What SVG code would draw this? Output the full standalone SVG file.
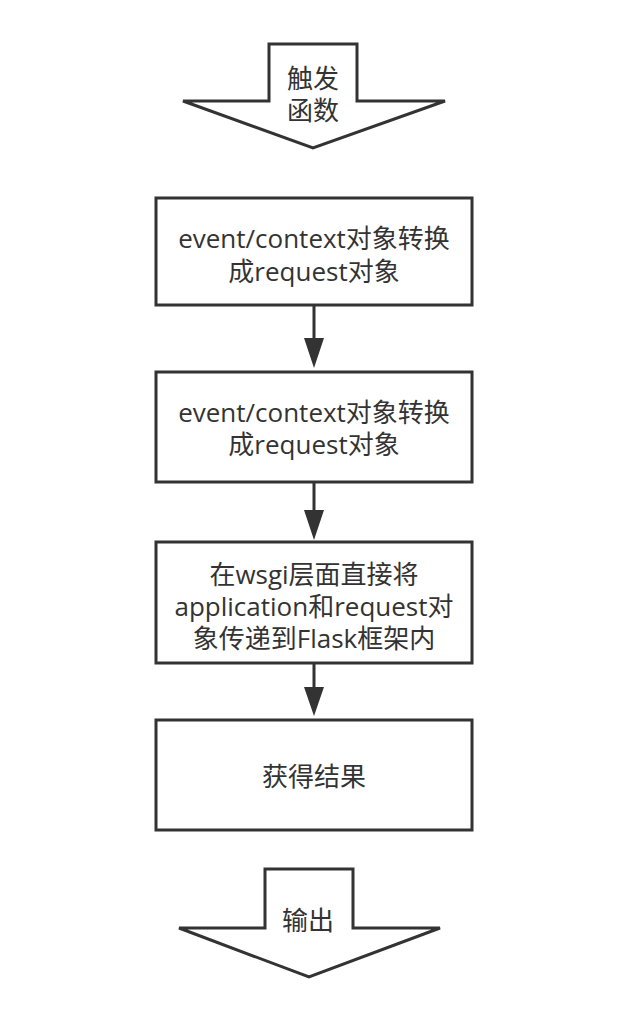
<svg xmlns="http://www.w3.org/2000/svg" width="640" height="1014" viewBox="0 0 640 1014">
<defs>
<style>
.shape{fill:#fff;stroke:#333;stroke-width:3;stroke-linejoin:miter}
.lbl{font-family:"Open Sans","Noto Sans CJK SC",sans-serif;font-size:26px;fill:#333;text-anchor:middle;dominant-baseline:central}
.conn{stroke:#333;stroke-width:3;fill:none}
.head{fill:#333}
</style>
</defs>
<rect width="640" height="1014" fill="#fff"/>
<g id="trigger">
<path class="shape" d="M269,44 L357,44 L357,101 L445,101 L313,148 L183,101 L269,101 Z"/>
<text class="lbl" x="313" y="78"><tspan x="313" y="78">触发</tspan><tspan x="313" y="110">函数</tspan></text>
</g>
<g id="box1">
<rect class="shape" x="156" y="198" width="316" height="107"/>
<text class="lbl"><tspan x="314" y="238">event/context对象转换</tspan><tspan x="314" y="271">成request对象</tspan></text>
</g>
<g id="box2">
<rect class="shape" x="156" y="372" width="316" height="110"/>
<text class="lbl"><tspan x="314" y="412">event/context对象转换</tspan><tspan x="314" y="444">成request对象</tspan></text>
</g>
<g id="box3">
<rect class="shape" x="156" y="542" width="316" height="121"/>
<text class="lbl"><tspan x="314" y="574">在wsgi层面直接将</tspan><tspan x="314" y="606">application和request对</tspan><tspan x="314" y="638">象传递到Flask框架内</tspan></text>
</g>
<g id="box4">
<rect class="shape" x="156" y="720" width="316" height="110"/>
<text class="lbl" x="314" y="776">获得结果</text>
</g>
<g id="output">
<path class="shape" d="M265,869 L353,869 L353,928 L440,928 L309,977 L179,928 L265,928 Z"/>
<text class="lbl" x="308" y="920">输出</text>
</g>
<g id="connectors">
<line class="conn" x1="314" y1="305" x2="314" y2="340"/>
<path class="head" d="M304,338 L324,338 L314,368 Z"/>
<line class="conn" x1="314" y1="482" x2="314" y2="512"/>
<path class="head" d="M304,510 L324,510 L314,540 Z"/>
<line class="conn" x1="314" y1="663" x2="314" y2="689"/>
<path class="head" d="M304,687 L324,687 L314,716 Z"/>
</g>
</svg>
